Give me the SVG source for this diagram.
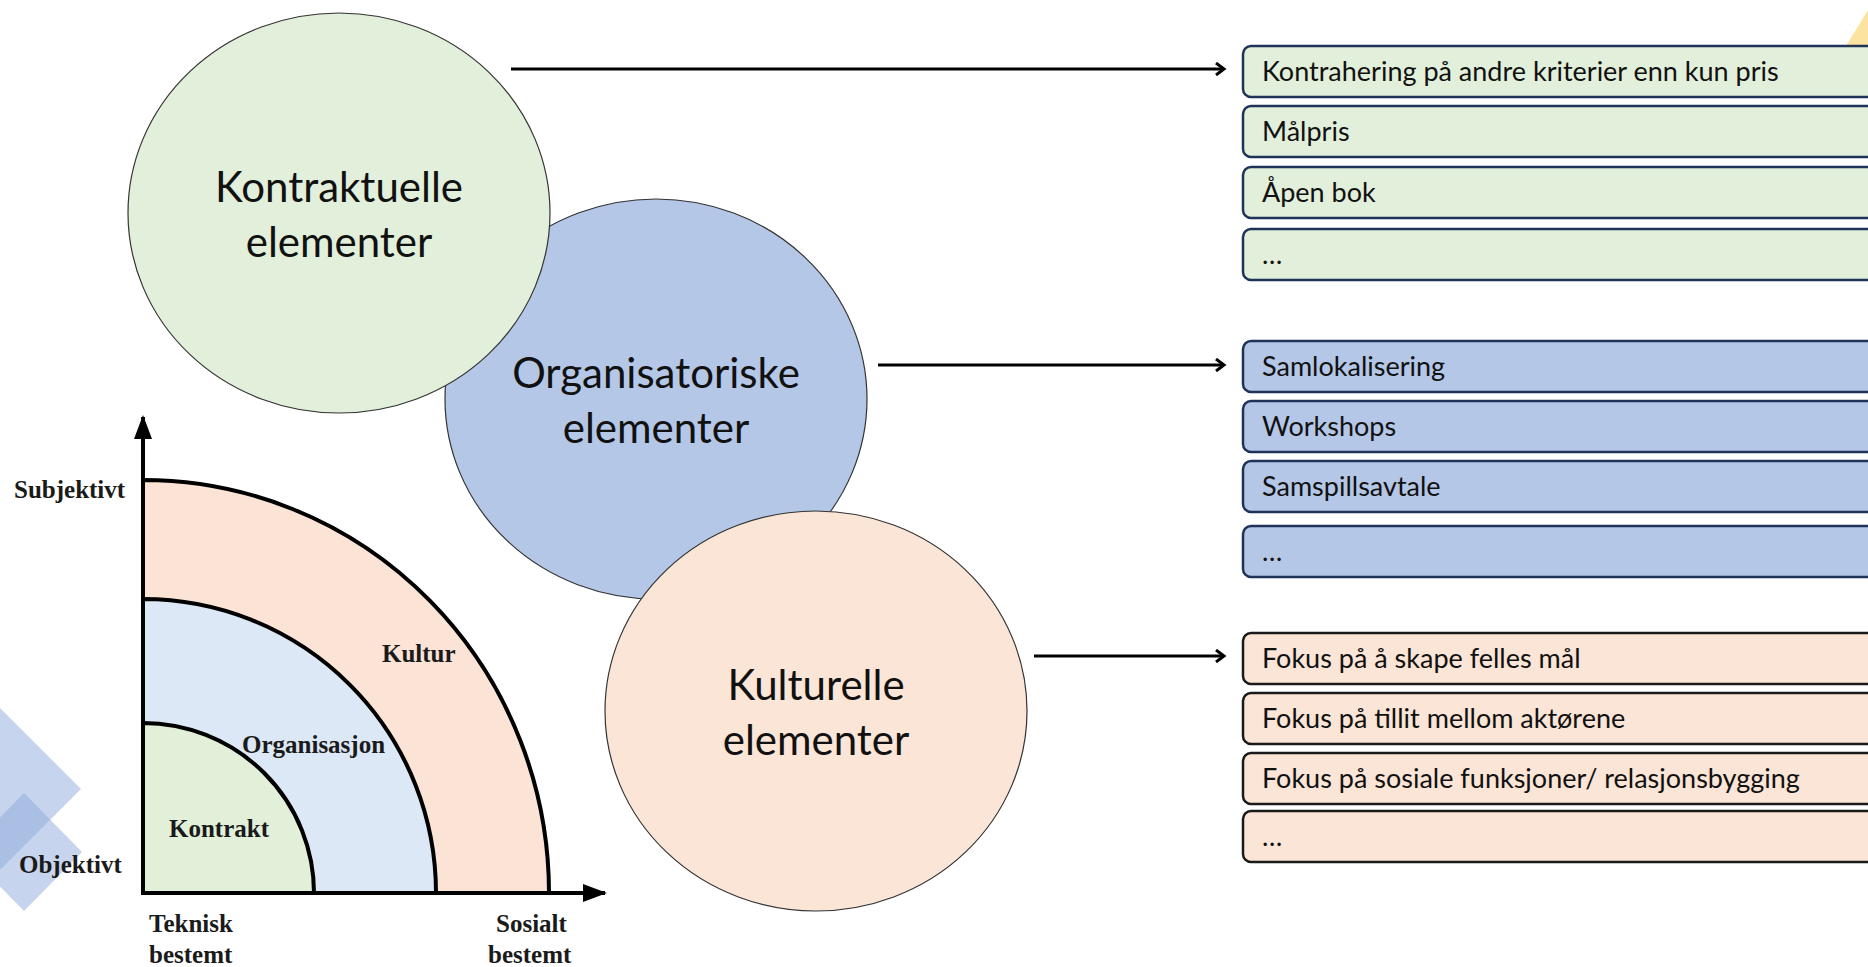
<svg xmlns="http://www.w3.org/2000/svg" width="1868" height="967" viewBox="0 0 1868 967">
<defs>
<style>
.circ{stroke:#333;stroke-width:1.2}
.clab{font-family:Lato,"Open Sans",sans-serif;font-size:42px;fill:#111;text-anchor:middle}
.box{stroke-width:2.5}
.g .box{fill:#e2efda;stroke:#1f3358}
.b .box{fill:#b4c7e7;stroke:#1f3358}
.o .box{fill:#fbe5d6;stroke:#1a1a1a}
.btxt{font-family:Lato,"Open Sans",sans-serif;font-size:27px;fill:#111}
.ser{font-family:"Liberation Serif","DejaVu Serif",serif;font-weight:bold;font-size:25px;fill:#1a1a1a}
.arc{stroke:#000;stroke-width:4}
.conn{stroke:#000;stroke-width:3;fill:none}
</style>
<marker id="open" markerWidth="14" markerHeight="14" refX="11" refY="7" orient="auto" markerUnits="userSpaceOnUse">
<path d="M3,1 L11,7 L3,13" fill="none" stroke="#000" stroke-width="3"/>
</marker>
<marker id="tri" markerWidth="24" markerHeight="20" refX="22" refY="10" orient="auto" markerUnits="userSpaceOnUse">
<path d="M0,1 L24,10 L0,19 Z" fill="#000"/>
</marker>
</defs>
<rect width="1868" height="967" fill="#fff"/>

<!-- decorative shapes -->
<g id="deco">
<polygon points="0,708 81,789 0,870 -81,789" fill="#8eaadb" fill-opacity="0.5"/>
<polygon points="24,793 82,852 24,911 -34,852" fill="#8eaadb" fill-opacity="0.5"/>
<polygon points="1846,46 1868,10 1868,46" fill="#fde3a0"/>
</g>

<!-- quadrant chart -->
<g id="quadrant">
<path class="arc" d="M143,893 L143,480 A406,413 0 0 1 549,893 Z" fill="#fbe3d5"/>
<path class="arc" d="M143,893 L143,599 A293,294 0 0 1 436,893 Z" fill="#dce8f6"/>
<path class="arc" d="M143,893 L143,723 A171,170 0 0 1 314,893 Z" fill="#e2f0d9"/>
<line x1="143" y1="895" x2="143" y2="417" stroke="#000" stroke-width="4" marker-end="url(#tri)"/>
<line x1="141" y1="893" x2="605" y2="893" stroke="#000" stroke-width="4" marker-end="url(#tri)"/>
<text class="ser" x="14" y="498">Subjektivt</text>
<text class="ser" x="19" y="873">Objektivt</text>
<text class="ser" x="169" y="837">Kontrakt</text>
<text class="ser" x="242" y="753">Organisasjon</text>
<text class="ser" x="382" y="662">Kultur</text>
<text class="ser" x="149" y="932">Teknisk</text>
<text class="ser" x="149" y="963">bestemt</text>
<text class="ser" x="496" y="932">Sosialt</text>
<text class="ser" x="488" y="963">bestemt</text>
</g>

<!-- circles -->
<g id="organisatoriske">
<ellipse class="circ" cx="656" cy="399" rx="211" ry="200" fill="#b4c7e7"/>
<text class="clab" x="656" y="388">Organisatoriske</text>
<text class="clab" x="656" y="443">elementer</text>
</g>
<g id="kontraktuelle">
<ellipse class="circ" cx="339" cy="213" rx="211" ry="200" fill="#e2efda"/>
<text class="clab" x="339" y="202">Kontraktuelle</text>
<text class="clab" x="339" y="257">elementer</text>
</g>
<g id="kulturelle">
<ellipse class="circ" cx="816" cy="711" rx="211" ry="200" fill="#fbe5d6"/>
<text class="clab" x="816" y="700">Kulturelle</text>
<text class="clab" x="816" y="755">elementer</text>
</g>

<!-- connectors -->
<g id="connectors">
<line class="conn" x1="511" y1="69" x2="1224" y2="69" marker-end="url(#open)"/>
<line class="conn" x1="878" y1="365" x2="1224" y2="365" marker-end="url(#open)"/>
<line class="conn" x1="1034" y1="656" x2="1224" y2="656" marker-end="url(#open)"/>
</g>

<!-- list boxes -->
<g id="list-kontrakt" class="g">
<rect class="box" x="1243" y="46" width="660" height="51" rx="8"/>
<text class="btxt" x="1262" y="81">Kontrahering på andre kriterier enn kun pris</text>
<rect class="box" x="1243" y="106" width="660" height="51" rx="8"/>
<text class="btxt" x="1262" y="141">Målpris</text>
<rect class="box" x="1243" y="167" width="660" height="51" rx="8"/>
<text class="btxt" x="1262" y="202">Åpen bok</text>
<rect class="box" x="1243" y="229" width="660" height="51" rx="8"/>
<text class="btxt" x="1262" y="264">…</text>
</g>
<g id="list-organisasjon" class="b">
<rect class="box" x="1243" y="341" width="660" height="51" rx="8"/>
<text class="btxt" x="1262" y="376">Samlokalisering</text>
<rect class="box" x="1243" y="401" width="660" height="51" rx="8"/>
<text class="btxt" x="1262" y="436">Workshops</text>
<rect class="box" x="1243" y="461" width="660" height="51" rx="8"/>
<text class="btxt" x="1262" y="496">Samspillsavtale</text>
<rect class="box" x="1243" y="526" width="660" height="51" rx="8"/>
<text class="btxt" x="1262" y="561">…</text>
</g>
<g id="list-kultur" class="o">
<rect class="box" x="1243" y="633" width="660" height="51" rx="8"/>
<text class="btxt" x="1262" y="668">Fokus på å skape felles mål</text>
<rect class="box" x="1243" y="693" width="660" height="51" rx="8"/>
<text class="btxt" x="1262" y="728">Fokus på tillit mellom aktørene</text>
<rect class="box" x="1243" y="753" width="660" height="51" rx="8"/>
<text class="btxt" x="1262" y="788">Fokus på sosiale funksjoner/ relasjonsbygging</text>
<rect class="box" x="1243" y="811" width="660" height="51" rx="8"/>
<text class="btxt" x="1262" y="846">…</text>
</g>
</svg>
